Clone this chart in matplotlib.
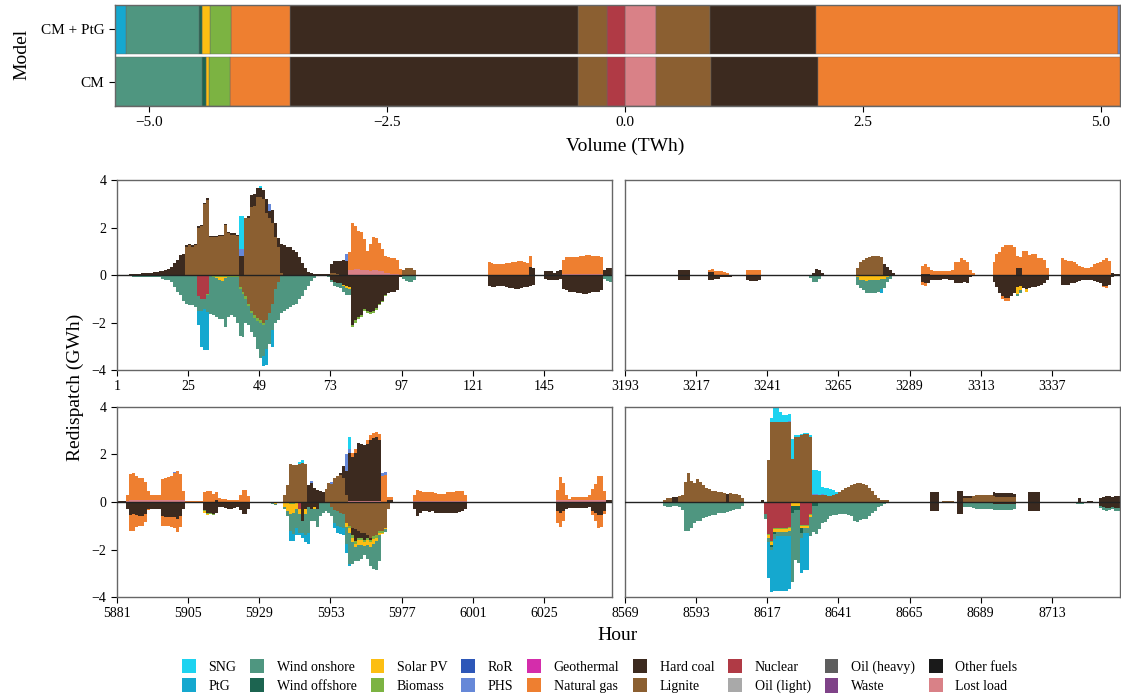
import matplotlib.pyplot as plt
import numpy as np
from matplotlib.patches import Patch

plt.rcParams['font.family'] = 'serif'
plt.rcParams['font.serif'] = ['Liberation Serif', 'DejaVu Serif']

# technologies in legend order, with their colours
techs = ['SNG', 'PtG', 'Wind onshore', 'Wind offshore', 'Solar PV', 'Biomass',
         'RoR', 'PHS', 'Geothermal', 'Natural gas', 'Hard coal', 'Lignite',
         'Nuclear', 'Oil (light)', 'Oil (heavy)', 'Waste', 'Other fuels', 'Lost load']
colors = ['#1DD3F0', '#15A8CF', '#4F9680', '#1C6450', '#FCBE12', '#7CB342',
          '#2D57B8', '#6688D8', '#D42DAB', '#EE7F30', '#3C2A1F', '#8B5F31',
          '#B03A45', '#A9A9A9', '#5E5E5E', '#7F4388', '#1A1A1A', '#D98187']
tech_color = dict(zip(techs, colors))

# yearly redispatch volume (TWh), values given as [CM, CM + PtG]
models = ['CM', 'CM + PtG']
vol_down = {
    'PtG': [0.0, 0.12],
    'Wind onshore': [0.919, 0.765],
    'Wind offshore': [0.041, 0.027],
    'Solar PV': [0.023, 0.086],
    'Biomass': [0.229, 0.225],
    'Natural gas': [0.626, 0.615],
    'Hard coal': [3.024, 3.03],
    'Lignite': [0.307, 0.305],
    'Nuclear': [0.188, 0.184],
}
vol_up = {
    'Lost load': [0.33, 0.33],
    'Lignite': [0.578, 0.567],
    'Hard coal': [1.118, 1.114],
    'Natural gas': [3.18, 3.166],
    'PHS': [0.0, 0.025],
}

# hourly redispatch (GWh) for four example weeks, stored as runs of
# (hour offset within the week, values)
week_starts = [1, 3193, 5881, 8569]

w1_up = {
    'Hard coal': [(4, [0.03, 0.05, 0.05, 0.06, 0.08, 0.08, 0.1, 0.1, 0.12, 0.12, 0.15, 0.15, 0.2, 0.25]),
                  (18, [0.35, 0.5, 0.65, 0.85, 0.9]),
                  (23, [0.05, 0.05, 0.05, 0.05, 0.05, 0.05, 0.05, 0.08, 0.05, 0.05, 0.05, 0.05, 0.05, 0.05, 0.05, 0.05, 0.05, 0.05]),
                  (41, [0.8, 0.8, 0.0, 0.1, 0.5, 0.5, 0.35, 0.35, 0.4, 0.6, 0.3, 0.55, 0.6, 0.35, 1.2, 1.25, 1.2, 1.2, 1.05, 0.95,
                        0.75, 0.5, 0.3, 0.12, 0.07, 0.05, 0.05, 0.05, 0.05, 0.05, 0.05]),
                  (72, [0.35, 0.5, 0.55, 0.6, 0.65, 0.6]),
                  (139, [0.35, 0.3]),
                  (144, [0.15, 0.15, 0.15, 0.1, 0.15, 0.2]),
                  (164, [0.2, 0.3, 0.3, 0.25])],
    'Lignite': [(23, [1.2, 1.25, 1.2, 1.25, 2.0, 2.05, 3.0, 3.15, 1.6, 1.6, 1.6, 1.65, 1.65, 2.1, 1.75, 1.7, 1.7, 1.65]),
                (43, [2.4, 2.4, 2.85, 2.9, 3.3, 3.3, 3.2, 2.6, 2.4, 2.2, 1.6, 1.2, 0.1]),
                (72, [0.1, 0.1, 0.05]),
                (96, [0.2, 0.28, 0.3, 0.3, 0.2])],
    'SNG': [(41, [1.4, 1.4]), (48, [0.1])],
    'PHS': [(41, [0.3, 0.3]), (51, [0.3]), (77, [0.3])],
    'Natural gas': [(78, [0.75, 2.0, 1.8, 1.6, 1.6, 1.3, 0.8, 1.15, 1.4, 1.35, 1.2, 0.95, 0.7, 0.65, 0.65, 0.65, 0.6, 0.25]),
                    (125, [0.55, 0.5, 0.45, 0.45, 0.45, 0.45, 0.5, 0.5, 0.55, 0.55, 0.6, 0.6, 0.55, 0.5, 0.45]),
                    (150, [0.6, 0.7, 0.7, 0.7, 0.7, 0.7, 0.75, 0.75, 0.8, 0.8, 0.75, 0.75, 0.75, 0.7])],
    'Lost load': [(78, [0.2, 0.2, 0.25, 0.25, 0.2, 0.2, 0.2, 0.15, 0.2, 0.2, 0.15, 0.15, 0.1, 0.1, 0.05, 0.05, 0.05]),
                  (150, [0.05, 0.05, 0.05, 0.05, 0.05, 0.05, 0.05, 0.05, 0.05, 0.05, 0.05, 0.05, 0.05, 0.05])],
}
w1_down = {
    'Wind onshore': [(3, [0.03, 0.05, 0.08, 0.08, 0.1, 0.1, 0.1, 0.08, 0.08, 0.1, 0.1, 0.1, 0.15, 0.2, 0.2, 0.3, 0.5, 0.7,
                          0.85, 1.1, 1.2, 1.25, 1.25, 1.35]),
                     (27, [0.6, 0.5, 0.45, 0.7, 1.6, 1.6, 1.65, 1.65, 1.6, 2.05, 1.7, 1.6, 1.65, 1.95, 1.95, 1.8, 1.0, 0.8,
                           0.8, 0.8, 1.2, 1.5, 1.3, 1.2, 1.3, 1.1, 1.4, 1.6, 1.6, 1.5, 1.45, 1.35, 1.25, 1.2, 1.0, 0.9,
                           0.65, 0.45, 0.25, 0.12, 0.06, 0.06, 0.06, 0.06]),
                     (71, [0.1, 0.1, 0.15, 0.15, 0.2, 0.25, 0.3, 0.25]),
                     (96, [0.15, 0.25, 0.3, 0.3, 0.2]),
                     (164, [0.15, 0.25, 0.3, 0.3])],
    'Nuclear': [(27, [0.9, 1.0, 1.0, 0.8])],
    'PtG': [(27, [0.6, 1.55, 1.7, 1.6]), (49, [0.45, 0.7]), (52, [0.75])],
    'Lignite': [(41, [0.5, 0.7, 0.9, 1.2, 1.5, 1.7, 1.8, 1.9, 2.0, 1.9, 1.6, 1.2, 0.6, 0.3])],
    'Hard coal': [(72, [0.2, 0.3, 0.35, 0.35, 0.4, 0.45, 0.5, 2.1, 1.9, 1.75, 1.7, 1.45, 1.5, 1.55, 1.5, 1.4, 1.2, 1.1,
                        0.85, 0.75, 0.7, 0.7, 0.65, 0.1]),
                  (125, [0.45, 0.5, 0.5, 0.45, 0.45, 0.45, 0.5, 0.55, 0.55, 0.6, 0.6, 0.55, 0.5, 0.5, 0.45, 0.4]),
                  (144, [0.15, 0.2, 0.2, 0.2, 0.2, 0.15]),
                  (150, [0.6, 0.65, 0.7, 0.7, 0.7, 0.75, 0.75, 0.8, 0.8, 0.75, 0.7, 0.7, 0.7, 0.65])],
    'Biomass': [(30, [0.05, 0.05, 0.08, 0.08, 0.1, 0.1, 0.08, 0.08, 0.1, 0.1, 0.08, 0.1, 0.1, 0.1, 0.12, 0.1, 0.1, 0.12, 0.1, 0.1]),
                (79, [0.08, 0.1, 0.1, 0.08, 0.08, 0.1, 0.1, 0.08, 0.08, 0.06, 0.05, 0.05])],
    'Solar PV': [(33, [0.05, 0.1, 0.15, 0.05]), (76, [0.05, 0.08, 0.1])],
}

w2_up = {
    'Hard coal': [(18, [0.2, 0.2, 0.2, 0.2]), (28, [0.12, 0.12]), (63, [0.1, 0.25, 0.2, 0.1]),
                  (87, [0.45, 0.35, 0.2, 0.1]), (100, [0.05, 0.05, 0.05]), (132, [0.3, 0.3]),
                  (164, [0.1, 0.05, 0.05, 0.05])],
    'Natural gas': [(28, [0.1, 0.12, 0.15, 0.15, 0.15, 0.12, 0.1]),
                    (41, [0.2, 0.22, 0.22, 0.22, 0.2]),
                    (100, [0.35, 0.4, 0.3, 0.2, 0.18, 0.15, 0.15, 0.15, 0.15, 0.18, 0.2, 0.55, 0.55, 0.7, 0.65, 0.55, 0.2, 0.1]),
                    (124, [0.55, 0.9, 0.95, 1.2, 1.25, 1.25, 1.25, 1.2, 0.5, 0.45, 1.0, 1.0, 0.85, 0.9, 0.9, 0.7, 0.7, 0.65, 0.3]),
                    (147, [0.7, 0.65, 0.6, 0.6, 0.55, 0.45, 0.4, 0.35, 0.3, 0.3, 0.35, 0.45, 0.5, 0.55, 0.65, 0.7, 0.6])],
    'Lignite': [(78, [0.3, 0.55, 0.65, 0.7, 0.75, 0.78, 0.8, 0.8, 0.75])],
}
w2_down = {
    'Hard coal': [(18, [0.2, 0.2, 0.2, 0.2]), (28, [0.2, 0.2, 0.18, 0.15, 0.1, 0.1, 0.1, 0.08]),
                  (41, [0.2, 0.25, 0.25, 0.25, 0.2, 0.05]),
                  (100, [0.3, 0.35, 0.35, 0.2, 0.2, 0.2, 0.2, 0.18, 0.18, 0.2, 0.2, 0.35, 0.35, 0.35, 0.3, 0.35, 0.1, 0.05]),
                  (124, [0.3, 0.5, 0.75, 0.9, 0.95, 0.95, 0.9, 0.75, 0.5, 0.45, 0.55, 0.6, 0.55, 0.5, 0.5, 0.45, 0.4, 0.35, 0.2]),
                  (147, [0.4, 0.4, 0.4, 0.35, 0.35, 0.3, 0.25, 0.2, 0.2, 0.2, 0.2, 0.25, 0.3, 0.35, 0.45, 0.45, 0.4,
                         0.1, 0.05, 0.05, 0.05])],
    'Natural gas': [(100, [0.1, 0.1]), (127, [0.1, 0.15, 0.15]), (161, [0.05, 0.08])],
    'Solar PV': [(62, [0.03, 0.05, 0.05]), (78, [0.1, 0.2, 0.2, 0.25, 0.2, 0.2, 0.2, 0.2, 0.15, 0.15, 0.1, 0.05]),
                 (132, [0.3, 0.2]), (135, [0.1])],
    'Wind onshore': [(62, [0.1, 0.25, 0.25, 0.15, 0.05]),
                     (78, [0.3, 0.35, 0.45, 0.5, 0.55, 0.55, 0.55, 0.5, 0.45, 0.4, 0.2, 0.1]),
                     (132, [0.1, 0.1])],
    'PtG': [(86, [0.15])],
}

w3_up = {
    'Hard coal': [(0, [0.05, 0.05, 0.05]), (33, [0.1]), (64, [0.7, 0.8, 0.6, 0.5, 0.45, 0.4]),
                  (75, [0.05, 0.5, 1.0, 2.0, 1.85, 2.0, 2.45, 2.4, 2.35, 2.4, 2.55, 2.65, 2.7, 2.55]),
                  (91, [0.1, 0.1]), (165, [0.08, 0.08, 0.08])],
    'Lignite': [(56, [0.3, 0.7, 1.6, 1.55, 1.55, 1.6, 1.65, 1.6]),
                (70, [0.55, 0.8, 0.75, 1.0, 1.1, 1.15, 1.0, 0.3])],
    'Natural gas': [(3, [0.25, 1.08, 1.12, 1.02, 0.92, 0.92, 0.78, 0.38, 0.22, 0.2, 0.22, 0.22, 0.88, 0.92, 0.98,
                         1.02, 1.12, 1.22, 1.08, 0.38, 0.05, 0.05, 0.05, 0.05, 0.05, 0.05, 0.4, 0.45, 0.45, 0.35,
                         0.3, 0.15, 0.12, 0.12, 0.1, 0.1, 0.1, 0.1, 0.3, 0.5, 0.5, 0.25]),
                    (79, [0.15, 0.2]), (84, [0.15, 0.2, 0.2, 0.2, 0.25]),
                    (89, [1.1, 1.15, 0.1, 0.1]),
                    (100, [0.25, 0.45, 0.4, 0.35, 0.37, 0.37, 0.35, 0.33, 0.3, 0.27, 0.3, 0.35, 0.37, 0.37, 0.4, 0.43, 0.4, 0.25]),
                    (148, [0.42, 0.97, 0.72, 0.22, 0.05, 0.12, 0.14, 0.14, 0.14, 0.14, 0.12, 0.22, 0.47, 0.67, 1.02, 1.02, 0.37])],
    'Lost load': [(3, [0.05, 0.08, 0.08, 0.08, 0.08, 0.08, 0.08, 0.08, 0.08, 0.08, 0.08, 0.08, 0.08, 0.08, 0.08,
                       0.08, 0.08, 0.08, 0.08, 0.08]),
                  (78, [0.05, 0.05, 0.05, 0.05, 0.05, 0.05, 0.05, 0.05, 0.05, 0.05, 0.05]),
                  (100, [0.05, 0.05, 0.05, 0.05, 0.05, 0.05, 0.05, 0.05, 0.05, 0.05, 0.05, 0.05, 0.05, 0.05, 0.05,
                         0.05, 0.05, 0.05]),
                  (148, [0.08, 0.08, 0.08, 0.08, 0.08, 0.08, 0.08, 0.08, 0.08, 0.08, 0.08, 0.08, 0.08, 0.08, 0.08,
                         0.08, 0.08])],
    'PHS': [(19, [0.05]), (65, [0.1]), (72, [0.1]), (77, [0.7, 0.2]), (89, [0.1, 0.1])],
    'SNG': [(61, [0.1, 0.12]), (78, [0.5])],
}
w3_down = {
    'Hard coal': [(3, [0.3, 0.55, 0.5, 0.55, 0.6, 0.6, 0.5, 0.3, 0.3, 0.3, 0.28, 0.3, 0.6, 0.62, 0.65, 0.65, 0.65,
                       0.7, 0.6, 0.3, 0.05, 0.05, 0.05, 0.05, 0.05, 0.05, 0.35, 0.45, 0.45, 0.5, 0.45, 0.2, 0.2,
                       0.25, 0.3, 0.3, 0.25, 0.2, 0.35, 0.5, 0.5, 0.3]),
                  (62, [0.8, 0.3, 0.2, 0.3, 0.2, 0.3]),
                  (79, [0.3, 0.5, 0.3, 0.2, 0.3, 0.1, 0.1]),
                  (100, [0.3, 0.6, 0.45, 0.4, 0.4, 0.42, 0.4, 0.45, 0.48, 0.48, 0.45, 0.45, 0.48, 0.48, 0.45, 0.42, 0.4, 0.3]),
                  (148, [0.4, 0.45, 0.4, 0.3, 0.25, 0.25, 0.27, 0.27, 0.27, 0.27, 0.25, 0.2, 0.4, 0.45, 0.55, 0.55,
                         0.4, 0.05, 0.05, 0.05])],
    'Natural gas': [(4, [0.65, 0.7, 0.5, 0.4, 0.4, 0.35, 0.05]), (15, [0.4, 0.4, 0.35, 0.4, 0.45, 0.55, 0.45]),
                    (148, [0.5, 0.6, 0.4]), (160, [0.15, 0.35, 0.55, 0.5, 0.1])],
    'Lignite': [(72, [0.2, 0.35, 0.4, 0.45, 0.5, 0.9, 1.0, 1.1, 1.15, 1.2, 1.3, 1.3, 1.4, 1.5, 1.45, 1.4, 1.2, 1.2, 1.1, 0.3])],
    'Nuclear': [(61, [0.3])],
    'Solar PV': [(29, [0.05, 0.05]), (52, [0.05, 0.08]), (56, [0.2, 0.4, 0.4, 0.35, 0.3, 0.2, 0.0, 0.2]), (66, [0.1]),
                 (77, [0.15, 0.2, 0.2, 0.15, 0.2, 0.2, 0.15, 0.2, 0.2, 0.2, 0.15, 0.1, 0.05, 0.05])],
    'Biomass': [(29, [0.05, 0.05, 0.05, 0.05]), (58, [0.1, 0.1]),
                (78, [0.1, 0.1, 0.1, 0.1, 0.1, 0.1, 0.1, 0.1, 0.1, 0.1, 0.1, 0.1])],
    'Wind onshore': [(52, [0.05, 0.05]),
                     (56, [0.1, 0.2, 0.7, 0.9, 0.8, 0.8, 0.5, 0.9, 1.1, 0.5, 0.5, 0.75, 0.6, 0.45, 0.4, 0.45, 0.4, 0.55,
                           0.6, 0.6, 0.6, 0.7, 1.3, 0.9, 0.6, 0.7, 0.6, 0.4, 0.6, 0.8, 1.05, 1.2, 1.1, 0.0, 0.1])],
    'PtG': [(58, [0.45, 0.3, 0.3, 0.1, 0.2, 0.3, 0.45]), (73, [0.2, 0.3, 0.3, 0.3, 0.4, 0.1])],
}

w4_up = {
    'Lignite': [(13, [0.1, 0.15, 0.15]),
                (18, [0.25, 0.3, 0.85, 1.2, 0.9, 0.8, 0.95, 0.85, 0.7, 0.6, 0.55, 0.48, 0.45, 0.42, 0.4, 0.38]),
                (35, [0.37, 0.35, 0.35, 0.3, 0.15]),
                (48, [1.75, 3.35, 3.35, 3.35, 3.35, 3.35, 3.35, 3.35, 1.8, 2.75, 2.75, 2.8, 2.85, 2.85, 2.75, 0.3,
                      0.3, 0.3, 0.3, 0.28, 0.25, 0.25, 0.3, 0.35, 0.4, 0.5, 0.6, 0.65, 0.7, 0.75, 0.8, 0.78, 0.75,
                      0.7, 0.6, 0.45, 0.3, 0.15, 0.08, 0.07, 0.07]),
                (107, [0.05, 0.05, 0.05, 0.05]), (114, [0.15, 0.15, 0.15]),
                (117, [0.25, 0.28, 0.28, 0.28, 0.28, 0.28, 0.28, 0.25, 0.2, 0.2, 0.2, 0.2, 0.2, 0.2, 0.2])],
    'Hard coal': [(16, [0.2, 0.2]), (34, [0.35]), (46, [0.1]), (103, [0.4, 0.4, 0.4]), (112, [0.45, 0.45]),
                  (114, [0.1, 0.1, 0.1]), (124, [0.15, 0.18, 0.18, 0.18, 0.18, 0.18, 0.18, 0.15]),
                  (136, [0.4, 0.4, 0.4, 0.4]), (153, [0.15]), (156, [0.05, 0.05]),
                  (160, [0.15, 0.2, 0.25, 0.25, 0.2, 0.25, 0.25, 0.2])],
    'SNG': [(49, [0.2, 0.6, 0.6, 0.45, 0.3, 0.3, 0.3, 0.85]), (57, [0.05, 0.05, 0.05, 0.05, 0.05, 0.05]),
            (63, [1.0, 1.0, 1.0, 0.3, 0.3, 0.35, 0.3, 0.2]), (71, [0.05])],
    'PHS': [(55, [0.05]), (63, [0.05, 0.05]), (66, [0.05])],
}
w4_down = {
    'Wind onshore': [(13, [0.15, 0.2, 0.2, 0.15, 0.15, 0.2, 0.35, 1.2, 1.2, 1.05, 0.85, 0.78, 0.75, 0.65, 0.6, 0.55,
                           0.5, 0.5, 0.45, 0.42, 0.42, 0.42, 0.38, 0.35, 0.3, 0.28, 0.15]),
                     (47, [0.2, 0.2, 0.1, 0.2, 0.2, 0.2, 0.2, 0.2, 0.25, 2.9, 2.1, 2.2, 0.2, 0.2, 0.2, 0.8, 1.1, 1.2,
                           1.1, 0.9, 0.85, 0.7, 0.6, 0.55, 0.55, 0.5, 0.5, 0.5, 0.55, 0.6, 0.8, 0.85, 0.75, 0.7, 0.7,
                           0.6, 0.45, 0.4, 0.2, 0.15, 0.1]),
                     (107, [0.05, 0.05, 0.05, 0.05]), (114, [0.2, 0.2, 0.2]),
                     (117, [0.25, 0.28, 0.3, 0.3, 0.3, 0.3, 0.28, 0.25, 0.22, 0.22, 0.25, 0.25, 0.25, 0.22, 0.2]),
                     (150, [0.05, 0.05, 0.1, 0.1, 0.1]),
                     (160, [0.1, 0.15, 0.15, 0.1, 0.1, 0.15, 0.15, 0.1])],
    'Nuclear': [(47, [0.5, 1.35, 1.65, 1.1, 1.1, 1.1, 1.1, 1.1, 1.05]), (59, [0.95, 0.95, 0.95, 0.5])],
    'Solar PV': [(20, [0.03, 0.03, 0.03, 0.03, 0.03, 0.03, 0.03, 0.03, 0.03, 0.03, 0.03, 0.03, 0.03, 0.03]),
                 (48, [0.1, 0.1, 0.1, 0.1, 0.1, 0.1, 0.1, 0.1, 0.1, 0.1, 0.1, 0.1, 0.1, 0.1, 0.1])],
    'Biomass': [(48, [0.05, 0.05, 0.05, 0.05, 0.05, 0.05, 0.05, 0.05, 0.05, 0.05, 0.05, 0.05, 0.05, 0.05, 0.05]),
                (63, [0.05, 0.05, 0.05])],
    'Wind offshore': [(49, [0.1, 0.1]), (56, [0.3, 0.2, 0.2]), (59, [0.2]), (63, [0.1, 0.1])],
    'PtG': [(48, [1.5, 1.8, 2.2, 2.3, 2.3, 2.3, 2.3, 2.2]), (59, [1.5, 1.55, 1.55])],
    'Hard coal': [(103, [0.4, 0.4, 0.4]), (112, [0.5, 0.5]), (124, [0.1, 0.1, 0.1, 0.1, 0.1, 0.1, 0.1, 0.1]),
                  (136, [0.4, 0.4, 0.4, 0.4]), (160, [0.15, 0.2, 0.25, 0.25, 0.2, 0.25, 0.25, 0.2])],
}

weeks_up = [w1_up, w2_up, w3_up, w4_up]
weeks_down = [w1_down, w2_down, w3_down, w4_down]
N_HOURS = 168
SPINE = '#666666'


def expand(runs):
    out = np.zeros(N_HOURS)
    for start, vals in runs:
        out[start:start + len(vals)] = vals
    return out


def style_spines(ax):
    for s in ax.spines.values():
        s.set_color(SPINE)
        s.set_linewidth(1.0)


def draw_week(ax, start, up, down):
    x = np.arange(start, start + N_HOURS + 1)
    pos = np.zeros(N_HOURS)
    neg = np.zeros(N_HOURS)
    # stack outward from zero in reversed legend order
    for tech in reversed(techs):
        if tech in up:
            h = expand(up[tech])
            lo, hi = pos, pos + h
            ax.fill_between(x, np.append(lo, lo[-1]), np.append(hi, hi[-1]), step='post',
                            color=tech_color[tech], lw=0)
            pos = hi
        if tech in down:
            h = expand(down[tech])
            lo, hi = neg, neg - h
            ax.fill_between(x, np.append(lo, lo[-1]), np.append(hi, hi[-1]), step='post',
                            color=tech_color[tech], lw=0)
            neg = hi
    ax.axhline(0, color='#222222', lw=1.0, zorder=5)
    ax.set_xlim(start, start + N_HOURS - 1)
    ax.set_ylim(-4, 4)
    ax.set_xticks(np.arange(start, start + N_HOURS, 24))
    style_spines(ax)


fig = plt.figure(figsize=(11.21, 6.95), dpi=100)

# yearly volumes per model
ax_top = fig.add_axes([0.1026, 0.8475, 0.8965, 0.1453])
for row, model in enumerate(models):
    left = 0.0
    for tech in reversed(techs):
        if tech in vol_up and vol_up[tech][row] > 0:
            ax_top.barh(row, vol_up[tech][row], left=left, height=0.94, color=tech_color[tech],
                        edgecolor='#666666', linewidth=0.3)
            left += vol_up[tech][row]
    right = 0.0
    for tech in reversed(techs):
        if tech in vol_down and vol_down[tech][row] > 0:
            ax_top.barh(row, -vol_down[tech][row], left=right, height=0.94, color=tech_color[tech],
                        edgecolor='#666666', linewidth=0.3)
            right -= vol_down[tech][row]
ax_top.set_xlim(-5.357, 5.2)
ax_top.set_ylim(-0.47, 1.47)
ax_top.set_yticks([0, 1])
ax_top.set_yticklabels(models)
ax_top.set_xticks([-5.0, -2.5, 0.0, 2.5, 5.0])
ax_top.set_xticklabels(['\u22125.0', '\u22122.5', '0.0', '2.5', '5.0'])
ax_top.tick_params(labelsize=11, length=4)
style_spines(ax_top)

# weekly redispatch panels
boxes = [[0.1044, 0.4676, 0.4416, 0.2734], [0.5575, 0.4676, 0.4416, 0.2734],
         [0.1044, 0.1410, 0.4416, 0.2734], [0.5575, 0.1410, 0.4416, 0.2734]]
for k, box in enumerate(boxes):
    ax = fig.add_axes(box)
    draw_week(ax, week_starts[k], weeks_up[k], weeks_down[k])
    ax.tick_params(labelsize=10, length=4)
    if k % 2 == 0:
        ax.set_yticks([-4, -2, 0, 2, 4])
        ax.set_yticklabels(['\u22124', '\u22122', '0', '2', '4'])
    else:
        ax.set_yticks([])

fig.text(0.0196, 0.921, 'Model', rotation=90, ha='center', va='center', fontsize=14)
fig.text(0.558, 0.79, 'Volume (TWh)', ha='center', va='center', fontsize=14)
fig.text(0.067, 0.442, 'Redispatch (GWh)', rotation=90, ha='center', va='center', fontsize=14)
fig.text(0.551, 0.085, 'Hour', ha='center', va='center', fontsize=14)

handles = [Patch(facecolor=c) for c in colors]
fig.legend(handles, techs, ncol=9, loc='center', bbox_to_anchor=(0.535, 0.027), frameon=False,
           fontsize=10, handlelength=1.0, handleheight=1.2, handletextpad=0.9,
           columnspacing=1.0, labelspacing=0.3)

fig.savefig('out.png', dpi=100)
